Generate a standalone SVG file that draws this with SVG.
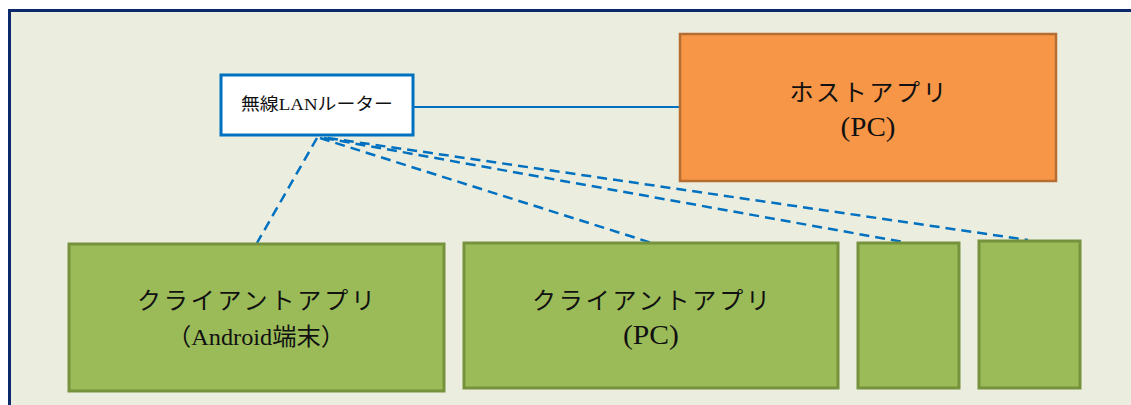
<svg xmlns="http://www.w3.org/2000/svg" width="1131" height="405" viewBox="0 0 1131 405">
<style>
  .lbl { font-family: "Liberation Serif", "Noto Sans CJK JP", serif; fill: #111; text-anchor: middle; }
  .big { font-size: 24px; }
  .pc { font-size: 27px; }
  .client rect { fill: #9bbb59; stroke: #76923c; stroke-width: 3; }
  .dash { fill: none; stroke: #0070c0; stroke-width: 2.5; stroke-dasharray: 10 6; }
</style>
<rect x="0" y="0" width="1131" height="405" fill="#ffffff"/>
<rect x="9" y="10.5" width="1122" height="394.5" fill="#ebeedf"/>
<path d="M9.5 405 V10.5 H1131" fill="none" stroke="#0c2a6b" stroke-width="3"/>

<g id="connectors">
  <line x1="413" y1="107" x2="680" y2="107" stroke="#0070c0" stroke-width="2"/>
  <line class="dash" x1="317" y1="138" x2="257" y2="243"/>
  <line class="dash" x1="320" y1="138" x2="652" y2="243"/>
  <line class="dash" x1="324" y1="138" x2="903" y2="242"/>
  <line class="dash" x1="328" y1="138" x2="1028" y2="240"/>
</g>

<g id="router">
  <rect x="221" y="75" width="192" height="60" fill="#ffffff" stroke="#0070c0" stroke-width="3"/>
  <text class="lbl" x="317" y="110" font-size="17" textLength="152" lengthAdjust="spacingAndGlyphs">無線LANルーター</text>
</g>

<g id="host">
  <rect x="680" y="34" width="376" height="147" fill="#f79646" stroke="#b66d31" stroke-width="2.5"/>
  <text class="lbl big" x="868" y="101" textLength="157" lengthAdjust="spacing">ホストアプリ</text>
  <text class="lbl pc" x="868" y="136" textLength="55" lengthAdjust="spacingAndGlyphs">(PC)</text>
</g>

<g id="client-android" class="client">
  <rect x="69" y="244" width="375" height="147"/>
  <text class="lbl big" x="256" y="309" textLength="238" lengthAdjust="spacing">クライアントアプリ</text>
  <text class="lbl big" x="256" y="345" textLength="178" lengthAdjust="spacingAndGlyphs">（Android端末）</text>
</g>

<g id="client-pc" class="client">
  <rect x="464" y="243" width="374" height="145"/>
  <text class="lbl big" x="651" y="309" textLength="238" lengthAdjust="spacing">クライアントアプリ</text>
  <text class="lbl pc" x="651" y="344" textLength="56" lengthAdjust="spacingAndGlyphs">(PC)</text>
</g>

<g id="client-3" class="client">
  <rect x="858" y="243" width="101" height="145"/>
</g>

<g id="client-4" class="client">
  <rect x="979" y="241" width="101" height="147"/>
</g>
</svg>
